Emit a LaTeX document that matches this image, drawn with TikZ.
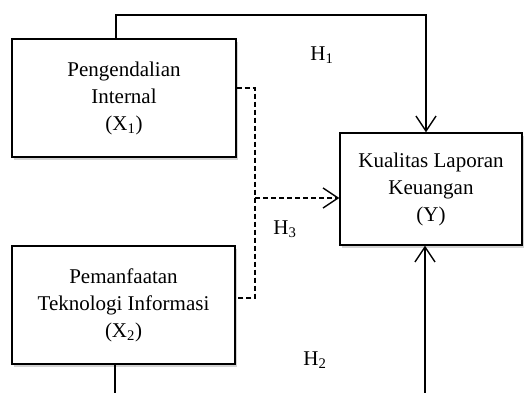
\documentclass[tikz,border=0pt]{standalone}
\usepackage{fontspec}
\setmainfont{Liberation Serif}
\usetikzlibrary{arrows.meta,shadows}
\begin{document}
\begin{tikzpicture}[x=1pt,y=-1pt,
  varbox/.style={draw=black,line width=1.4pt,fill=white,align=center,inner sep=0pt,
    font=\fontsize{21}{27}\selectfont,
    drop shadow={shadow xshift=2pt,shadow yshift=-2.5pt,opacity=0.35,fill=gray}},
  conn/.style={line width=1.4pt},
  dconn/.style={line width=1.4pt,dash pattern=on 5pt off 3pt},
  tip/.style={-{Straight Barb[length=15pt,width=20pt,line width=1.4pt]}},
  hlab/.style={font=\fontsize{21}{25}\selectfont,inner sep=0pt}]
\useasboundingbox (0,0) rectangle (525,392);
\clip (0,0) rectangle (525,392);
\node[varbox,minimum width=224pt,minimum height=118pt] (x1) at (124,98)
  {Pengendalian\\Internal\\(X\textsubscript{1})};
\node[varbox,minimum width=223pt,minimum height=118pt] (x2) at (123.5,305)
  {Pemanfaatan\\Teknologi Informasi\\(X\textsubscript{2})};
\node[varbox,minimum width=182pt,minimum height=112pt] (y) at (431,189)
  {Kualitas Laporan\\Keuangan\\(Y)};
% H1
\coordinate (t1) at (116,15);
\coordinate (t2) at (426,15);
\draw[conn,tip] (x1.north -| t1) -- (t1) -- (t2) -- (y.north -| t2);
% H3 (dashed)
\coordinate (d1) at (255,88);
\coordinate (d2) at (255,298);
\coordinate (d3) at (255,198);
\draw[dconn] (x1.east |- d1) -- (d1) -- (d2) -- (x2.east |- d2);
\draw[dconn,tip] (d3) -- (y.west |- d3);
% H2
\coordinate (b1) at (115,402);
\coordinate (b2) at (425,402);
\draw[conn,tip] (x2.south -| b1) -- (b1) -- (b2) -- (y.south -| b2);
% labels
\node[hlab] (h1) at (322,55) {H\textsubscript{1}};
\node[hlab] (h3) at (285,229) {H\textsubscript{3}};
\node[hlab] (h2) at (315,360) {H\textsubscript{2}};
\end{tikzpicture}
\end{document}
